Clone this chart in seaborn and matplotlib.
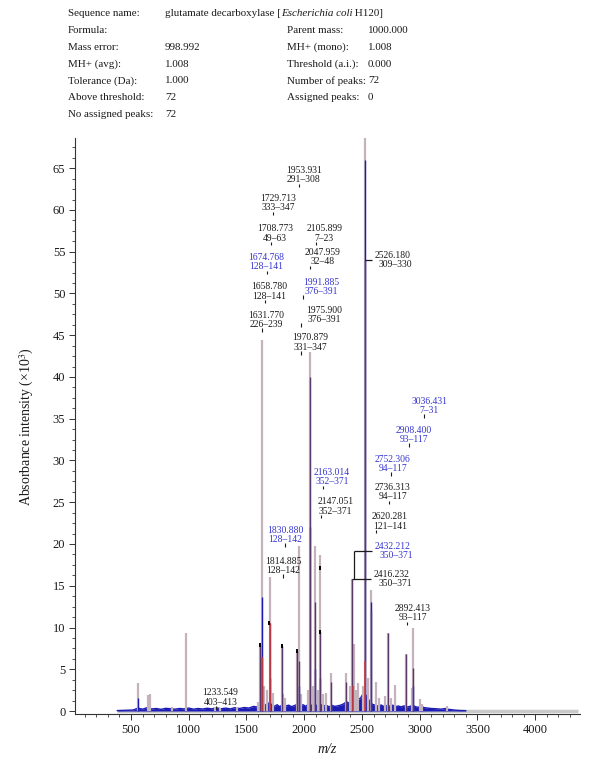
import matplotlib
matplotlib.use("Agg")
import matplotlib.pyplot as plt
import seaborn as sns
from matplotlib.ticker import MultipleLocator, AutoMinorLocator

# ---- header block ----
header_left = ["Sequence name:", "Formula:", "Mass error:", "MH+ (avg):",
               "Tolerance (Da):", "Above threshold:", "No assigned peaks:"]
header_left_val = ["", "", "998.992", "1.008", "1.000", "72", "72"]
header_right = ["", "Parent mass:", "MH+ (mono):", "Threshold (a.i.):",
                "Number of peaks:", "Assigned peaks:", ""]
header_right_val = ["", "1000.000", "1.008", "0.000", "72", "0", ""]
seq_name = ["glutamate decarboxylase [", "Escherichia coli", " H120]"]

# ---- spectrum: noisy baseline (blue profile) ----
base_mz = [380, 450, 520, 560, 600, 640, 680, 720, 760, 800, 840, 880, 920, 960,
           1000, 1040, 1080, 1120, 1160, 1200, 1240, 1280, 1320, 1360, 1400, 1440,
           1480, 1520, 1560, 1590, 1615, 1640, 1665, 1690, 1715, 1740, 1765, 1790,
           1815, 1840, 1865, 1890, 1915, 1940, 1965, 1990, 2015, 2040, 2065, 2090,
           2115, 2140, 2165, 2190, 2215, 2240, 2265, 2290, 2315, 2340, 2365, 2390,
           2415, 2440, 2465, 2490, 2515, 2540, 2565, 2590, 2615, 2640, 2665, 2690,
           2715, 2740, 2765, 2790, 2815, 2840, 2865, 2890, 2915, 2940, 2965, 2990,
           3015, 3040, 3070, 3100, 3130, 3160, 3190, 3220, 3250, 3280, 3310, 3350, 3400]
base_int = [0.05, 0.08, 0.12, 0.35, 0.22, 0.40, 0.25, 0.30, 0.20, 0.32, 0.28, 0.22, 0.30, 0.25,
            0.35, 0.22, 0.30, 0.24, 0.33, 0.26, 0.38, 0.27, 0.35, 0.25, 0.40, 0.30,
            0.42, 0.35, 0.55, 0.48, 0.85, 1.10, 0.70, 0.95, 0.80, 0.55, 0.75, 0.50,
            0.85, 0.60, 0.70, 0.52, 0.65, 0.80, 0.60, 0.75, 0.55, 0.90, 0.65, 0.85,
            0.55, 0.80, 0.60, 0.70, 0.50, 0.68, 0.55, 0.62, 0.70, 0.85, 1.10, 0.95,
            1.40, 1.10, 1.30, 1.60, 2.20, 1.80, 1.20, 0.80, 0.70, 0.60, 0.72, 0.55,
            0.65, 0.58, 0.70, 0.52, 0.60, 0.50, 0.62, 0.48, 0.55, 0.70, 0.50, 0.45,
            0.55, 0.40, 0.35, 0.30, 0.28, 0.25, 0.22, 0.30, 0.20, 0.15, 0.10, 0.06, 0.04]

# ---- centroid peaks (light mauve sticks) ----
peak_mz = [558, 650, 662, 853, 974, 1228, 1270, 1416, 1603, 1620, 1632, 1655, 1675,
           1706, 1730, 1806, 1815, 1830, 1940, 1955, 1976, 2032, 2048, 2078, 2095,
           2120, 2140, 2163, 2190, 2230, 2363, 2395, 2416, 2432, 2445, 2470, 2505,
           2526, 2555, 2577, 2620, 2650, 2700, 2724, 2752, 2782, 2880, 2932, 2946,
           3004, 3020, 3236]
peak_int = [3.3, 1.9, 2.0, 0.5, 9.4, 0.5, 0.4, 0.5, 1.1, 7.9, 44.4, 3.0, 2.5,
            16.1, 2.2, 7.8, 2.0, 1.5, 7.2, 19.7, 2.0, 2.5, 43.0, 3.0, 19.7,
            2.5, 18.7, 2.0, 2.1, 4.5, 4.5, 3.0, 15.8, 8.0, 2.5, 3.3, 3.0,
            69.0, 4.0, 14.5, 3.5, 1.5, 1.8, 9.3, 1.5, 3.1, 6.8, 2.7, 9.9,
            1.4, 0.8, 0.6]

# dark (purple) trace
dark_mz = [1620, 1632, 1706, 1806, 1940, 1955, 2048, 2095, 2140, 2230, 2363, 2416,
           2526, 2577, 2724, 2880, 2946]
dark_int = [7.9, 6.5, 10.5, 7.8, 7.2, 6.0, 40.0, 13.0, 9.5, 3.5, 3.5, 15.8,
            54.0, 12.0, 9.3, 6.8, 5.1]

# blue trace
blue_mz = [558, 1632, 1706, 1955, 2048, 2095, 2140, 2526, 2577, 2946]
blue_int = [1.5, 13.7, 4.0, 3.0, 22.0, 5.0, 4.0, 66.0, 13.0, 3.0]

# red trace
red_mz = [1632, 1706, 2421, 2526]
red_int = [6.5, 10.5, 3.0, 6.0]

# small black peak markers
mark_mz = [1620, 1699, 1806, 1940, 2140, 2140]
mark_int = [7.9, 10.5, 7.8, 7.2, 17.1, 9.5]

# ---- annotated peaks ----
label_mz = [1953.931, 1729.713, 1708.773, 2105.899, 1674.768, 2047.959, 1658.780,
            1991.885, 1631.770, 1975.900, 1970.879, 3036.431, 2908.400, 2752.306,
            2736.313, 2620.281, 2163.014, 2147.051, 1830.880, 1814.885, 2892.413,
            1233.549]
label_rng = ["291–308", "333–347", "49–63", "7–23", "128–141", "32–48", "128–141",
             "376–391", "226–239", "376–391", "331–347", "7–31", "93–117", "94–117",
             "94–117", "121–141", "352–371", "352–371", "128–142", "128–142", "93–117",
             "403–413"]
label_y = [62.96, 59.58, 55.98, 55.98, 52.51, 53.11, 49.0, 49.59, 45.61, 46.21,
           42.89, 35.31, 31.84, 28.37, 24.98, 21.46, 26.78, 23.26, 19.87, 16.16,
           10.50, 0.40]
label_blue = [0, 0, 0, 0, 1, 0, 0, 1, 0, 0, 0, 1, 1, 1, 0, 0, 1, 0, 1, 0, 0, 0]
label_dx = [41, 46, 39, 69, 0, 110, 41, 153, 37, 198, 84, 48, 43, 16, 30, 122,
            76, 122, 3, 5, 46, 41]

# callouts with leader lines
call_mz = [2526.180, 2432.212, 2416.232]
call_rng = ["309–330", "350–371", "350–371"]
call_y = [53.99, 19.19, 15.77]
call_top = [53.99, 15.77, 15.77]
call_blue = [0, 1, 0]
call_tx = [2608, 2614, 2600]

# ---- style ----
sns.set_theme(style="ticks")
plt.rcParams['font.family'] = ['Liberation Serif', 'DejaVu Serif']
plt.rcParams['mathtext.fontset'] = 'stix'

BLUE = "#1c1cb4"
MAUVE = "#c4b2bd"
DARK = "#5a3868"
RED = "#d23a3a"
LBLUE = "#3535d0"
INK = "#1a1a1a"
LFS = 6.9
HFS = 7.9

fig = plt.figure(figsize=(6, 7.73), dpi=100)
ax = fig.add_axes([0.125, 0.0763, 0.842, 0.745])


def fy(py):
    return 1 - py / 773.0


# header text
for i in range(len(header_left)):
    y = fy(14 + 16.7 * i)
    fig.text(68 / 600, y, header_left[i], fontsize=HFS, va='center', color=INK)
    if header_left_val[i]:
        fig.text(165 / 600, y, header_left_val[i], fontsize=HFS, va='center', color=INK)
    if header_right[i]:
        fig.text(287 / 600, y, header_right[i], fontsize=HFS, va='center', color=INK)
        fig.text(368 / 600, y, header_right_val[i], fontsize=HFS, va='center', color=INK)

t = fig.text(165 / 600, fy(14), seq_name[0], fontsize=HFS, va='center', color=INK)
t = ax.annotate(seq_name[1], xy=(1, 0), xycoords=t, va='bottom', ha='left',
                fontsize=HFS, fontstyle='italic', color=INK, annotation_clip=False)
ax.annotate(seq_name[2], xy=(1, 0), xycoords=t, va='bottom', ha='left',
            fontsize=HFS, color=INK, annotation_clip=False)

# gray baseline and noisy blue profile
ax.hlines(0, 380, 4370, color="#c9c9c9", lw=2.5, zorder=1)
ax.fill_between(base_mz, 0, base_int, color=BLUE, lw=0, zorder=2)
sns.lineplot(x=base_mz, y=base_int, ax=ax, color=BLUE, lw=1.0, zorder=2)

# peaks
ax.vlines(peak_mz, 0, peak_int, color=MAUVE, lw=1.6, zorder=3)
ax.vlines(blue_mz, 0, blue_int, color=BLUE, lw=1.0, zorder=4)
ax.vlines(dark_mz, 0, dark_int, color=DARK, lw=1.0, zorder=5)
ax.vlines(red_mz, 0, red_int, color=RED, lw=1.1, zorder=6)
ax.vlines(mark_mz, [m - 0.25 for m in mark_int], [m + 0.25 for m in mark_int],
          color="black", lw=1.4, zorder=7)

# peak labels
for mz, rng, y, b, dx in zip(label_mz, label_rng, label_y, label_blue, label_dx):
    c = LBLUE if b else INK
    ax.vlines(mz, y - 0.2, y + 0.2, color=INK, lw=0.8, zorder=8)
    ax.text(mz + dx, y + 1.78, f"{mz:.3f}", fontsize=LFS, color=c,
            ha='center', va='center', zorder=8)
    ax.text(mz + dx, y + 0.66, rng, fontsize=LFS, color=c,
            ha='center', va='center', zorder=8)

for mz, rng, y, top, b, tx in zip(call_mz, call_rng, call_y, call_top, call_blue, call_tx):
    c = LBLUE if b else INK
    ax.hlines(y, mz, tx - 25, color=INK, lw=0.9, zorder=8)
    if top != y:
        ax.vlines(mz, top, y, color=INK, lw=0.9, zorder=8)
    ax.text(tx, y + 0.56, f"{mz:.3f}", fontsize=LFS, color=c,
            ha='left', va='center', zorder=8)
    ax.text(tx + 40, y - 0.56, rng, fontsize=LFS, color=c,
            ha='left', va='center', zorder=8)

# axes
ax.set_xticks([500, 1000, 1500, 2000, 2500, 3000, 3500, 4000])
ax.xaxis.set_minor_locator(MultipleLocator(100))
ax.yaxis.set_major_locator(MultipleLocator(5))
ax.yaxis.set_minor_locator(AutoMinorLocator(4))
ax.set_xlim(15, 4390)
ax.set_ylim(-0.36, 68.6)
sns.despine(ax=ax)
for s in ("left", "bottom"):
    ax.spines[s].set_color("#333333")
    ax.spines[s].set_linewidth(0.8)
ax.tick_params(which='major', length=4, width=0.7, labelsize=9, colors="#333333",
               labelcolor=INK, pad=3)
ax.tick_params(which='minor', length=2, width=0.6, colors="#333333")
ax.set_xlabel("m/z", fontsize=10, fontstyle='italic', color=INK, labelpad=5)
ax.set_ylabel("Absorbance intensity (×10$^{3}$)", fontsize=10, color=INK, labelpad=12)
ax.grid(False)

fig.savefig("out.png", dpi=100)
